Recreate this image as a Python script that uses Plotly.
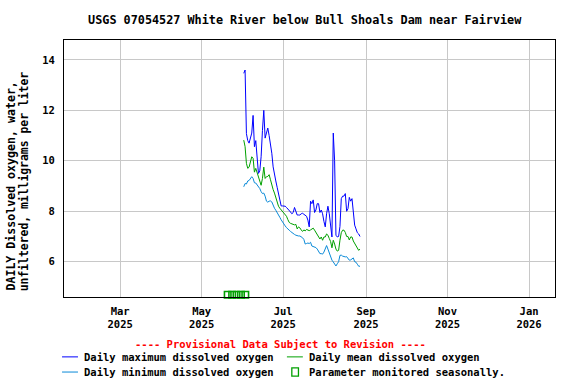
import pandas as pd
import plotly.graph_objects as go

# daily values, 2025-06-01 .. 2025-08-27
START = "2025-06-01 12:00"
daily_max = [
    13.47, 13.6, 11.08, 10.8, 10.7, 10.9, 11.1, 11.8, 10.56, 10.8,
    10.1, 9.5, 9.6, 10.16, 11.2, 12.0, 10.9, 11.1, 11.3, 11.0,
    10.7, 10.3, 9.76, 9.4, 9.2, 8.95, 8.65, 8.4, 8.21, 8.21,
    8.21, 8.2, 8.15, 8.1, 8.03, 7.97, 7.9, 7.95, 8.15, 7.95,
    7.85, 7.85, 7.85, 7.9, 7.92, 7.88, 7.85, 7.8, 7.65, 7.38,
    8.4, 8.3, 8.45, 7.95, 8.05, 8.3, 8.3, 7.95, 8.05, 7.9,
    7.6, 7.38, 7.9, 8.2, 7.9, 7.3, 6.98, 11.1, 10.0, 7.05,
    6.98, 7.0, 7.4, 8.5, 8.6, 8.6, 8.7, 8.0, 8.1, 8.55,
    8.4, 8.5, 7.8, 7.45, 7.3, 7.15, 7.1, 7.0,
]
daily_mean = [
    10.82, 10.56, 9.9, 9.7, 9.75, 9.95, 10.16, 10.1, 9.55, 9.7,
    9.55, 9.4, 9.23, 9.03, 9.3, 9.75, 9.3, 9.37, 9.38, 9.45,
    9.25, 9.0, 8.86, 8.72, 8.55, 8.35, 8.2, 8.12, 8.05, 8.0,
    7.92, 7.87, 7.8, 7.67, 7.56, 7.52, 7.5, 7.46, 7.46, 7.48,
    7.3, 7.38, 7.34, 7.26, 7.2, 7.26, 7.22, 7.28, 7.26, 7.23,
    7.26, 7.3, 7.33, 7.25, 7.15, 7.06, 7.0, 6.9, 6.98, 6.85,
    6.98, 6.98, 7.1, 7.05, 6.92, 6.8, 6.55, 6.85, 6.7, 6.5,
    6.42, 6.45, 6.85, 7.15, 7.25, 7.25, 7.16, 7.0, 7.0, 6.86,
    6.98, 6.98, 6.82, 6.72, 6.65, 6.55, 6.45, 6.5,
]
daily_min = [
    8.97, 9.1, 9.08, 9.2, 9.22, 9.3, 9.37, 9.3, 9.13, 9.12,
    9.06, 8.98, 8.9, 8.78, 8.7, 8.72, 8.6, 8.4, 8.36, 8.4,
    8.41, 8.37, 8.2, 8.12, 8.04, 7.96, 7.88, 7.76, 7.66, 7.56,
    7.48, 7.42, 7.35, 7.28, 7.25, 7.2, 7.15, 7.12, 7.08, 7.05,
    7.02, 7.02, 7.02, 7.0, 6.95, 6.88, 6.7, 6.72, 6.74, 6.72,
    6.77, 6.62, 6.6, 6.6, 6.56, 6.5, 6.39, 6.32, 6.32, 6.3,
    6.38, 6.5, 6.64, 6.5, 6.32, 6.14, 6.06, 5.99, 5.9, 5.83,
    5.92, 6.0, 6.25, 6.26, 6.22, 6.2, 6.19, 6.2, 6.12, 6.06,
    6.07, 6.12, 6.15, 6.0, 5.98, 5.9, 5.82, 5.82,
]
seasonal_dates = ["2025-05-20 12:00", "2025-05-23 20:00", "2025-05-27 02:00",
                  "2025-05-30 10:00", "2025-06-02 16:00"]
seasonal_level = 4.69

tick_dates = ["2025-03-01", "2025-05-01", "2025-07-01", "2025-09-01",
              "2025-11-01", "2026-01-01"]
tick_text = ["Mar<br>2025", "May<br>2025", "Jul<br>2025", "Sep<br>2025",
             "Nov<br>2025", "Jan<br>2026"]
y_ticks = [6, 8, 10, 12, 14]

MONO = "DejaVu Sans Mono"
C_MAX, C_MEAN, C_MIN, C_SEAS = "#0000FF", "#00A000", "#0A8AD8", "#00A000"

days = pd.date_range(START, periods=len(daily_max), freq="D")

fig = go.Figure()
for vals, col in [(daily_min, C_MIN), (daily_mean, C_MEAN), (daily_max, C_MAX)]:
    fig.add_trace(go.Scatter(x=days, y=vals, mode="lines",
                             line={"color": col, "width": 1}))
fig.add_trace(go.Scatter(
    x=seasonal_dates, y=[seasonal_level] * len(seasonal_dates),
    mode="markers", cliponaxis=False,
    marker={"symbol": "square-open", "size": 6.5, "color": C_SEAS,
            "line": {"width": 1.6, "color": C_SEAS}}))

# hand-drawn legend under the plot (paper coords)
legend_rows = [
    (-0.004, -0.233, "line", C_MAX, "Daily maximum dissolved oxygen"),
    (0.454, -0.233, "line", C_MEAN, "Daily mean dissolved oxygen"),
    (-0.004, -0.292, "line", C_MIN, "Daily minimum dissolved oxygen"),
    (0.454, -0.292, "box", C_SEAS, "Parameter monitored seasonally."),
]
shapes, notes = [], []
for x0, y0, kind, col, label in legend_rows:
    if kind == "line":
        shapes.append(dict(type="line", xref="paper", yref="paper",
                           x0=x0, x1=x0 + 0.0325, y0=y0, y1=y0,
                           line={"color": col, "width": 1}))
    else:
        shapes.append(dict(type="rect", xref="paper", yref="paper",
                           x0=x0 + 0.01, x1=x0 + 0.0235, y0=y0 - 0.016, y1=y0 + 0.016,
                           line={"color": col, "width": 1.3}))
    notes.append(dict(xref="paper", yref="paper", x=x0 + 0.0405, y=y0,
                      xanchor="left", yanchor="middle", showarrow=False,
                      text=label, font={"family": MONO, "size": 10.5, "color": "black",
                                        "weight": "bold"}))
notes.append(dict(xref="paper", yref="paper", x=0.44, y=-0.181,
                  xanchor="center", yanchor="middle", showarrow=False,
                  text="---- Provisional Data Subject to Revision ----",
                  font={"family": MONO, "size": 10.5, "color": "#FF0000",
                        "weight": "bold"}))
# y-axis title: two rotated lines, both starting at the bottom
for xp, size, line in [(-0.1078, 11.6, "DAILY Dissolved oxygen, water,"),
                       (-0.0808, 11.4, "unfiltered, milligrams per liter")]:
    notes.append(dict(xref="paper", yref="paper", x=xp, y=0.0156,
                      xanchor="center", yanchor="bottom", showarrow=False, textangle=-90,
                      text=line,
                      font={"family": MONO, "size": size, "color": "black", "weight": "bold"}))

fig.update_layout(
    width=576, height=384, showlegend=False,
    paper_bgcolor="white", plot_bgcolor="white",
    margin={"l": 64, "r": 21, "t": 40, "b": 87, "autoexpand": False},
    font={"family": MONO, "size": 10.5, "color": "black", "weight": "bold"},
    title={"text": "USGS 07054527 White River below Bull Shoals Dam near Fairview",
           "x": 0.529, "xanchor": "center", "y": 0.948, "yanchor": "middle",
           "font": {"family": MONO, "size": 11.8, "color": "black", "weight": "bold"}},
    shapes=shapes, annotations=notes,
)
fig.update_xaxes(
    type="date", range=["2025-01-18", "2026-01-20 10:00"],
    tickvals=tick_dates, ticktext=tick_text, automargin=False,
    showgrid=True, gridcolor="#C8C8C8", gridwidth=1,
    showline=True, linecolor="black", linewidth=1, mirror=True,
    ticks="outside", ticklen=4, tickcolor="rgba(0,0,0,0)", zeroline=False,
)
fig.update_yaxes(
    range=[4.6, 14.79], tickvals=y_ticks, automargin=False,
    showgrid=True, gridcolor="#C8C8C8", gridwidth=1,
    showline=True, linecolor="black", linewidth=1, mirror=True,
    ticks="outside", ticklen=6, tickcolor="rgba(0,0,0,0)", zeroline=False,
)

# page body has an 8px default margin; drop it so the figure fills the window
fig.write_html("out.html", config={"displayModeBar": False},
               post_script="document.body.style.margin='0px';")
